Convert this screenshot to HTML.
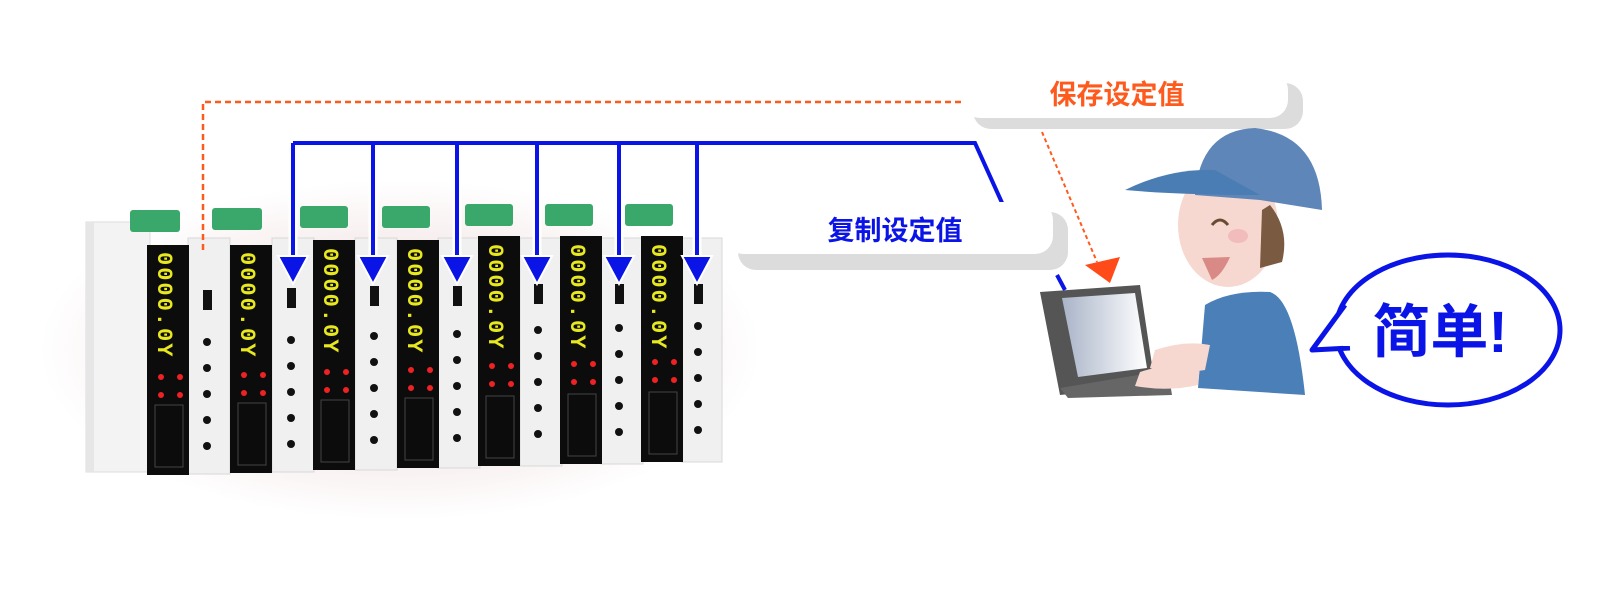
<!DOCTYPE html>
<html><head><meta charset="utf-8"><style>
html,body{margin:0;padding:0;background:#fff;}
svg{display:block}
text{font-family:"Liberation Sans","Noto Sans CJK SC",sans-serif;font-weight:bold}
.d{font-family:"Liberation Mono",monospace;font-weight:bold;letter-spacing:2px}
</style></head><body>
<svg width="1600" height="614" viewBox="0 0 1600 614" xmlns="http://www.w3.org/2000/svg">
<defs>
<linearGradient id="scr" x1="0" y1="0" x2="1" y2="0"><stop offset="0" stop-color="#a9b4c8"/><stop offset="1" stop-color="#fff"/></linearGradient>
<radialGradient id="glow" cx="0.5" cy="0.5" r="0.5"><stop offset="0.6" stop-color="#f6ecec"/><stop offset="1" stop-color="#fff"/></radialGradient>
</defs>
<rect width="1600" height="614" fill="#fff"/>
<ellipse cx="400" cy="350" rx="360" ry="170" fill="url(#glow)"/>
<rect x="86" y="222" width="64" height="250" fill="#f3f3f3" stroke="#ddd"/>
<rect x="86" y="222" width="8" height="250" fill="#e6e6e6"/>
<g>
<rect x="130" y="210" width="50" height="22" fill="#3aa86a" rx="3"/><rect x="212" y="208" width="50" height="22" fill="#3aa86a" rx="3"/>
<rect x="300" y="206" width="48" height="22" fill="#3aa86a" rx="3"/><rect x="382" y="206" width="48" height="22" fill="#3aa86a" rx="3"/>
<rect x="465" y="204" width="48" height="22" fill="#3aa86a" rx="3"/><rect x="545" y="204" width="48" height="22" fill="#3aa86a" rx="3"/>
<rect x="625" y="204" width="48" height="22" fill="#3aa86a" rx="3"/>
</g>
<g fill="#f0f0f0" stroke="#d8d8d8">
<rect x="188" y="238" width="42" height="236"/><rect x="272" y="238" width="42" height="234"/>
<rect x="355" y="238" width="42" height="232"/><rect x="438" y="238" width="42" height="230"/>
<rect x="520" y="238" width="42" height="228"/><rect x="601" y="238" width="42" height="226"/>
<rect x="682" y="238" width="40" height="224"/>
</g>
<g fill="#0c0c0c">
<rect x="147" y="245" width="42" height="230"/><rect x="230" y="245" width="42" height="228"/>
<rect x="313" y="240" width="42" height="230"/><rect x="397" y="240" width="42" height="228"/>
<rect x="478" y="236" width="42" height="230"/><rect x="560" y="236" width="42" height="228"/>
<rect x="641" y="236" width="42" height="226"/>
</g>
<g font-size="22" fill="#e8e820">
<text class="d" x="158" y="252" transform="rotate(90 158 252)">0000.0Y</text>
<text class="d" x="241" y="252" transform="rotate(90 241 252)">0000.0Y</text>
<text class="d" x="324" y="248" transform="rotate(90 324 248)">0000.0Y</text>
<text class="d" x="408" y="248" transform="rotate(90 408 248)">0000.0Y</text>
<text class="d" x="489" y="244" transform="rotate(90 489 244)">0000.0Y</text>
<text class="d" x="571" y="244" transform="rotate(90 571 244)">0000.0Y</text>
<text class="d" x="652" y="244" transform="rotate(90 652 244)">0000.0Y</text>
</g>
<g fill="#e22">
<circle cx="161" cy="377" r="3"/><circle cx="180" cy="377" r="3"/><circle cx="161" cy="395" r="3"/><circle cx="180" cy="395" r="3"/>
<circle cx="244" cy="375" r="3"/><circle cx="263" cy="375" r="3"/><circle cx="244" cy="393" r="3"/><circle cx="263" cy="393" r="3"/>
<circle cx="327" cy="372" r="3"/><circle cx="346" cy="372" r="3"/><circle cx="327" cy="390" r="3"/><circle cx="346" cy="390" r="3"/>
<circle cx="411" cy="370" r="3"/><circle cx="430" cy="370" r="3"/><circle cx="411" cy="388" r="3"/><circle cx="430" cy="388" r="3"/>
<circle cx="492" cy="366" r="3"/><circle cx="511" cy="366" r="3"/><circle cx="492" cy="384" r="3"/><circle cx="511" cy="384" r="3"/>
<circle cx="574" cy="364" r="3"/><circle cx="593" cy="364" r="3"/><circle cx="574" cy="382" r="3"/><circle cx="593" cy="382" r="3"/>
<circle cx="655" cy="362" r="3"/><circle cx="674" cy="362" r="3"/><circle cx="655" cy="380" r="3"/><circle cx="674" cy="380" r="3"/>
</g>
<g fill="none" stroke="#444"><rect x="155" y="405" width="28" height="62"/><rect x="238" y="403" width="28" height="62"/><rect x="321" y="400" width="28" height="62"/><rect x="405" y="398" width="28" height="62"/><rect x="486" y="396" width="28" height="62"/><rect x="568" y="394" width="28" height="62"/><rect x="649" y="392" width="28" height="62"/></g>
<g fill="#111">
<rect x="203" y="290" width="9" height="20"/><rect x="287" y="288" width="9" height="20"/><rect x="370" y="286" width="9" height="20"/><rect x="453" y="286" width="9" height="20"/><rect x="534" y="284" width="9" height="20"/><rect x="615" y="284" width="9" height="20"/><rect x="694" y="284" width="9" height="20"/>
</g>
<g fill="#111">
<circle cx="207" cy="342" r="4"/><circle cx="207" cy="368" r="4"/><circle cx="207" cy="394" r="4"/><circle cx="207" cy="420" r="4"/><circle cx="207" cy="446" r="4"/>
<circle cx="291" cy="340" r="4"/><circle cx="291" cy="366" r="4"/><circle cx="291" cy="392" r="4"/><circle cx="291" cy="418" r="4"/><circle cx="291" cy="444" r="4"/>
<circle cx="374" cy="336" r="4"/><circle cx="374" cy="362" r="4"/><circle cx="374" cy="388" r="4"/><circle cx="374" cy="414" r="4"/><circle cx="374" cy="440" r="4"/>
<circle cx="457" cy="334" r="4"/><circle cx="457" cy="360" r="4"/><circle cx="457" cy="386" r="4"/><circle cx="457" cy="412" r="4"/><circle cx="457" cy="438" r="4"/>
<circle cx="538" cy="330" r="4"/><circle cx="538" cy="356" r="4"/><circle cx="538" cy="382" r="4"/><circle cx="538" cy="408" r="4"/><circle cx="538" cy="434" r="4"/>
<circle cx="619" cy="328" r="4"/><circle cx="619" cy="354" r="4"/><circle cx="619" cy="380" r="4"/><circle cx="619" cy="406" r="4"/><circle cx="619" cy="432" r="4"/>
<circle cx="698" cy="326" r="4"/><circle cx="698" cy="352" r="4"/><circle cx="698" cy="378" r="4"/><circle cx="698" cy="404" r="4"/><circle cx="698" cy="430" r="4"/>
</g>
<path d="M203 250 V102 H962" fill="none" stroke="#ff5a1e" stroke-width="2.5" stroke-dasharray="6,4"/>
<path d="M1042 132 L1097 262" fill="none" stroke="#ff5a1e" stroke-width="2" stroke-dasharray="4,3"/>
<polygon points="1085,265 1120,257 1110,283" fill="#ff4a1a"/>
<g stroke="#fff" stroke-width="9" fill="none"><path d="M293 143 H975 M293 143 V262 M373 143 V262 M457 143 V262 M537 143 V262 M619 143 V262 M697 143 V262"/></g>
<g stroke="#0a14e6" stroke-width="4" fill="none"><path d="M293 143 H975 L1003 205 M293 143 V262 M373 143 V262 M457 143 V262 M537 143 V262 M619 143 V262 M697 143 V262 M1057 275 L1065 290"/></g>
<g fill="#0a14e6" stroke="#fff" stroke-width="2">
<polygon points="278,256 308,256 293,284"/><polygon points="358,256 388,256 373,284"/><polygon points="442,256 472,256 457,284"/><polygon points="522,256 552,256 537,284"/><polygon points="604,256 634,256 619,284"/><polygon points="682,256 712,256 697,284"/>
</g>
<rect x="973" y="83" width="330" height="46" rx="18" fill="#dcdcdc"/>
<rect x="962" y="72" width="326" height="46" rx="18" fill="#fff"/>
<text x="1117" y="104" font-size="27" fill="#ff5a1e" text-anchor="middle">保存设定值</text>
<rect x="738" y="212" width="330" height="58" rx="18" fill="#dcdcdc"/>
<rect x="725" y="202" width="328" height="52" rx="18" fill="#fff"/>
<text x="895" y="240" font-size="27" fill="#0a14e6" text-anchor="middle">复制设定值</text>
<path d="M1198 388 L1205 305 Q1230 290 1270 292 Q1295 300 1305 395 Z" fill="#4b7fb8"/>
<ellipse cx="1228" cy="225" rx="50" ry="62" fill="#f6d8d0"/>
<path d="M1270 205 Q1290 230 1282 262 L1260 268 L1262 210 Z" fill="#7a5a40"/>
<path d="M1195 195 Q1200 130 1255 128 Q1320 135 1322 210 L1260 200 Z" fill="#5e86b8"/>
<path d="M1125 190 Q1170 168 1215 170 L1260 195 Q1180 195 1125 190 Z" fill="#4a7db4"/>
<path d="M1212 225 Q1220 215 1228 225" fill="none" stroke="#6a4a30" stroke-width="3"/>
<path d="M1202 258 L1230 257 Q1222 275 1212 280 Z" fill="#d98a86"/>
<ellipse cx="1238" cy="236" rx="10" ry="7" fill="#f2bcbc"/>
<polygon points="1040,292 1140,285 1155,385 1060,395" fill="#555"/>
<polygon points="1062,298 1135,293 1147,368 1078,377" fill="url(#scr)"/>
<polygon points="1060,388 1168,370 1172,395 1068,398" fill="#666"/>
<path d="M1155 350 Q1185 340 1210 345 L1205 370 Q1175 375 1150 368 Z" fill="#f6d8d0"/>
<path d="M1140 372 Q1170 362 1200 365 L1198 385 Q1168 392 1135 386 Z" fill="#f6d8d0"/>
<ellipse cx="1448" cy="330" rx="112" ry="75" fill="#fff" stroke="#0a14e6" stroke-width="5"/>
<path d="M1345 305 L1312 350 L1350 348" fill="#fff" stroke="#0a14e6" stroke-width="5" stroke-linejoin="round"/>
<rect x="1343" y="312" width="12" height="34" fill="#fff"/>
<text x="1440" y="352" font-size="58" fill="#0a14e6" text-anchor="middle">简单!</text>
</svg>
</body></html>
